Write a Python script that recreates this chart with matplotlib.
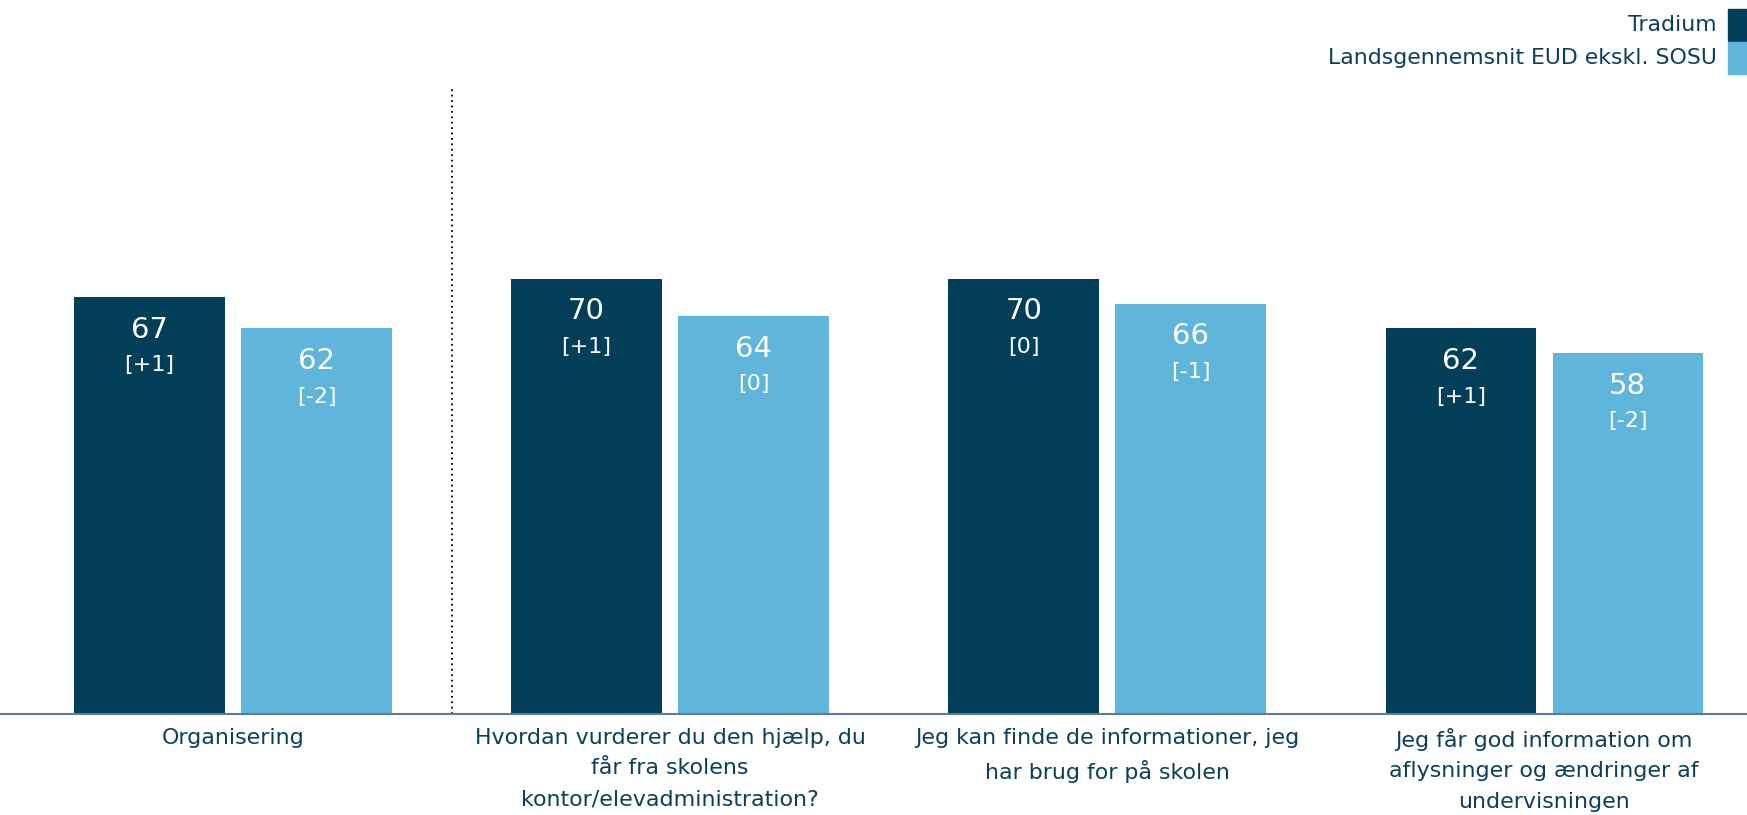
import matplotlib.pyplot as plt
from matplotlib.patches import Rectangle
import numpy as np

# data
categories = [
    "Organisering",
    "Hvordan vurderer du den hjælp, du\nfår fra skolens\nkontor/elevadministration?",
    "Jeg kan finde de informationer, jeg\nhar brug for på skolen",
    "Jeg får god information om\naflysninger og ændringer af\nundervisningen",
]
series_names = ["Tradium", "Landsgennemsnit EUD ekskl. SOSU"]
tradium = [67, 70, 70, 62]
tradium_change = ["+1", "+1", "0", "+1"]
national = [62, 64, 66, 58]
national_change = ["-2", "0", "-1", "-2"]

DARK = "#033f58"
LIGHT = "#5fb5da"
TEXT = "#0b3f5a"
AXIS = "#5b7c99"

plt.rcParams["font.family"] = ["DejaVu Sans"]

W, H = 1747, 815
fig = plt.figure(figsize=(W / 100, H / 100), dpi=100)
ax = fig.add_axes([0, 1 - 714 / H, 1, (714 - 86) / H])

x = np.arange(len(categories))
width = 0.344
offset = 0.191

bars_a = ax.bar(x - offset, tradium, width, color=DARK)
bars_b = ax.bar(x + offset, national, width, color=LIGHT)

for bars, vals, chg in ((bars_a, tradium, tradium_change), (bars_b, national, national_change)):
    for b, v, c in zip(bars, vals, chg):
        cx = b.get_x() + b.get_width() / 2
        ax.annotate(str(v), (cx, v), xytext=(0, -23.5), textcoords="offset points",
                    ha="center", va="center", color="white", fontsize=21)
        ax.annotate(f"[{c}]", (cx, v), xytext=(0, -49), textcoords="offset points",
                    ha="center", va="center", color="white", fontsize=16)

# separator between overall index and the single questions
ax.axvline(0.5, ls=(0, (1, 2)), color="black", lw=1.3)

ax.set_xlim(-0.533, 3.464)
ax.set_ylim(0, 101)
ax.set_yticks([])
ax.set_xticks(x)
ax.set_xticklabels(categories, fontsize=15.9, color=TEXT, linespacing=1.66)
ax.tick_params(axis="x", length=0, pad=10)
for s in ("top", "left", "right"):
    ax.spines[s].set_visible(False)
ax.spines["bottom"].set_color(AXIS)
ax.spines["bottom"].set_linewidth(1.5)

# legend, top right
legend_y = [25, 58]
for name, col, yc in zip(series_names, (DARK, LIGHT), legend_y):
    fig.patches.append(Rectangle((1728 / W, 1 - (yc + 16) / H), 19 / W, 32 / H,
                                 transform=fig.transFigure, color=col))
    fig.text(1717 / W, 1 - yc / H, name, ha="right", va="center",
             fontsize=15.8, color=TEXT)

fig.savefig("out.png", dpi=100)
